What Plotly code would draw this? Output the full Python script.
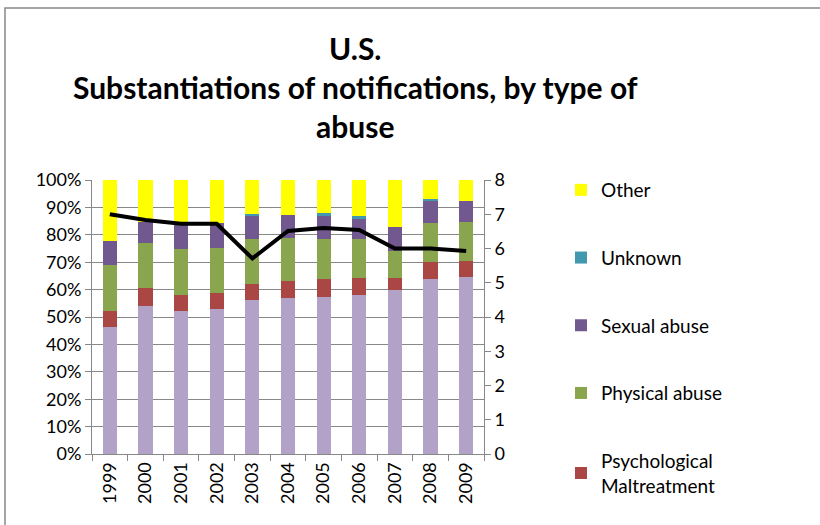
import plotly.graph_objects as go

years = ["1999", "2000", "2001", "2002", "2003", "2004", "2005", "2006", "2007", "2008", "2009"]

# shares of substantiations (%)
neglect = [46.5, 54.0, 52.2, 52.9, 56.2, 57.0, 57.2, 58.0, 59.9, 63.7, 64.7]
psychological = [5.7, 6.5, 5.8, 5.7, 5.7, 6.2, 6.7, 6.4, 4.5, 6.5, 5.7]
physical = [16.7, 16.4, 16.7, 16.5, 16.5, 15.5, 14.5, 14.0, 9.8, 14.2, 14.4]
sexual = [8.9, 7.9, 8.9, 9.1, 8.8, 8.5, 8.5, 7.5, 8.8, 8.1, 7.5]
unknown = [0.0, 0.0, 0.0, 0.0, 0.3, 0.0, 0.9, 1.0, 0.0, 0.4, 0.0]
other = [22.2, 15.2, 16.4, 15.8, 12.5, 12.8, 12.2, 13.1, 17.0, 7.1, 7.7]

# black line on the right axis
rate = [7.0, 6.83, 6.72, 6.72, 5.71, 6.51, 6.6, 6.54, 6.0, 6.0, 5.93]

font = "Lato"

# name, values, colour, legend rank (None = not in legend)
series = [
    ("Neglect", neglect, "#B3A2C7", None),
    ("Psychological<br>Maltreatment", psychological, "#AA4643", 5),
    ("Physical abuse", physical, "#89A54E", 4),
    ("Sexual abuse", sexual, "#71588F", 3),
    ("Unknown", unknown, "#4198AF", 2),
    ("Other", other, "#FFFF00", 1),
]

fig = go.Figure()
for name, vals, color, rank in series:
    fig.add_trace(go.Bar(
        name=name,
        x=years,
        y=vals,
        marker=dict(color=color, line=dict(width=0)),
        showlegend=rank is not None,
        legendrank=rank if rank else 1000,
        legendgroup=name,
    ))

fig.add_trace(go.Scatter(
    x=years,
    y=rate,
    yaxis="y2",
    mode="lines",
    line=dict(color="black", width=4),
    showlegend=False,
))

# plot area edges in pixels
L, R, T, B = 92, 484, 180, 454
W, H = R - L, B - T
grey = "#888888"

fig.update_layout(
    width=820,
    height=525,
    margin=dict(l=L, r=820 - R, t=T, b=525 - B),
    paper_bgcolor="white",
    plot_bgcolor="white",
    barmode="stack",
    bargap=0.6,
    font=dict(family=font, size=18, color="black"),
    xaxis=dict(
        type="category",
        tickangle=-90,
        ticks="outside",
        tickson="boundaries",
        ticklen=6,
        tickcolor=grey,
        showline=True,
        linecolor=grey,
        showgrid=False,
    ),
    yaxis=dict(
        range=[0, 100],
        dtick=10,
        ticksuffix="%",
        ticks="outside",
        ticklen=6,
        tickcolor=grey,
        showline=True,
        linecolor=grey,
        showgrid=True,
        gridcolor=grey,
        zeroline=False,
    ),
    yaxis2=dict(
        range=[0, 8],
        dtick=1,
        overlaying="y",
        side="right",
        ticks="outside",
        ticklen=6,
        tickcolor=grey,
        showline=True,
        linecolor=grey,
        showgrid=False,
        zeroline=False,
    ),
    legend=dict(
        yref="container",
        xref="container",
        x=561 / 820,
        xanchor="left",
        y=1 - 171 / 525,
        yanchor="top",
        traceorder="grouped",
        tracegroupgap=40,
        font=dict(size=19),
        itemwidth=30,
        maxheight=360,
    ),
    annotations=[dict(
        text="<b>U.S.<br>Substantiations of notifications, by type of<br>abuse</b>",
        xref="paper",
        yref="paper",
        x=(355 - L) / W,
        y=(B - 87) / H,
        xanchor="center",
        yanchor="middle",
        showarrow=False,
        font=dict(family=font, size=30, color="black"),
    )],
    shapes=[dict(
        type="rect",
        xref="paper",
        yref="paper",
        x0=(5 - L) / W,
        x1=(830 - L) / W,
        y0=(B - 540) / H,
        y1=(B - 8) / H,
        line=dict(color=grey, width=1.5),
        layer="below",
    )],
)

fig.write_html(
    "out.html",
    config={"displayModeBar": False},
    post_script="document.body.style.margin = '0';",
)
